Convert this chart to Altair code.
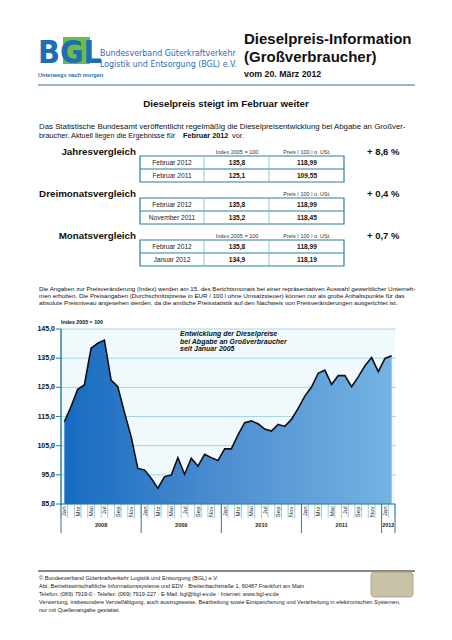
import altair as alt
import pandas as pd

# ---------------- data ----------------
month_names = ["Jan", "Feb", "Mrz", "Apr", "Mai", "Jun", "Jul", "Aug", "Sep", "Okt", "Nov", "Dez"]
years = ["2008", "2009", "2010", "2011", "2012"]
index_values = [
    113.2, 118.4, 124.3, 125.8, 138.4, 140.1, 141.2, 127.5, 125.2, 116.4, 108.1, 97.2,
    96.7, 93.8, 90.4, 94.4, 94.9, 100.9, 95.2, 100.7, 98.0, 102.0, 100.9, 99.9,
    103.9, 103.9, 108.7, 112.9, 113.5, 112.5, 110.7, 110.0, 112.3, 111.6, 114.0, 117.8,
    122.0, 125.1, 129.8, 130.9, 126.0, 129.0, 129.0, 125.2, 128.6, 132.4, 135.2, 130.4,
    134.9, 135.8,
]
y_ticks = [85, 95, 105, 115, 125, 135, 145]

cmp_titles = ["Jahresvergleich", "Dreimonatsvergleich", "Monatsvergleich"]
cmp_periods = [["Februar 2012", "Februar 2011"], ["Februar 2012", "November 2011"], ["Februar 2012", "Januar 2012"]]
cmp_index = [["135,8", "125,1"], ["135,8", "135,2"], ["135,8", "134,9"]]
cmp_price = [["118,99", "109,55"], ["118,99", "118,45"], ["118,99", "118,19"]]
cmp_change = ["+ 8,6 %", "+ 0,4 %", "+ 0,7 %"]
cmp_show_index_header = [True, False, True]

n = len(index_values)
df = pd.DataFrame({"idx": list(range(n)), "value": index_values})
mlab_df = pd.DataFrame({"idx": [i for i in range(n) if i % 2 == 0],
                        "m": [month_names[i % 12] for i in range(n) if i % 2 == 0]})
bounds = pd.DataFrame({"b": [i - 0.5 for i in range(n + 1)]})
year_starts = [i for i in range(n) if i % 12 == 0]
year_bounds = pd.DataFrame({"b": [s - 0.5 for s in year_starts] + [n - 0.5]})
year_df = pd.DataFrame({
    "year": years,
    "c": [(s - 0.5 + min(s + 12, n) - 0.5) / 2 for s in year_starts],
})
ylab_df = pd.DataFrame({"v": y_ticks, "lab": [("%.1f" % v).replace(".", ",") for v in y_ticks]})

# ---------------- styling helpers ----------------
SANS = "Liberation Sans, Arial, sans-serif"
NARROW = "Liberation Sans Narrow, DejaVu Sans Condensed, sans-serif"
TEAL = "#2a7f9f"
BLUE = "#1f6db4"
OX, OY = 61, 329  # page position of plot origin
W, H = 334, 175
one = pd.DataFrame({"a": [0]})
layers = []


def T(s, px, py, size, weight="normal", align="left", color="#111", font=SANS, style="normal"):
    layers.append(
        alt.Chart(one).mark_text(
            text=s, fontSize=size, fontWeight=weight, align=align, baseline="middle",
            color=color, font=font, fontStyle=style,
        ).encode(x=alt.value(px - OX), y=alt.value(py - OY))
    )


def RECT(x1, x2, y1, y2, fill="white", stroke=TEAL, sw=1.0, radius=0):
    kw = dict(fill=fill, strokeWidth=sw, cornerRadius=radius)
    if stroke:
        kw["stroke"] = stroke
    layers.append(
        alt.Chart(one).mark_rect(**kw).encode(
            x=alt.value(x1 - OX), x2=alt.value(x2 - OX), y=alt.value(y1 - OY), y2=alt.value(y2 - OY)
        )
    )


def LINE(x1, x2, y1, y2, color=TEAL, sw=1.0):
    layers.append(
        alt.Chart(one).mark_rule(color=color, strokeWidth=sw).encode(
            x=alt.value(x1 - OX), x2=alt.value(x2 - OX), y=alt.value(y1 - OY), y2=alt.value(y2 - OY)
        )
    )


# ---------------- header ----------------
RECT(63, 90, 37, 64, fill="#6cbd45", stroke=None, sw=0)
T("BGL", 38, 53, 32, weight="bold", color=BLUE, font=NARROW)
T("Unterwegs nach morgen", 38, 75, 5.6, weight="bold", color=BLUE)
T("Bundesverband Güterkraftverkehr", 100, 53, 8.8, color=BLUE, font=NARROW)
T("Logistik und Entsorgung (BGL) e.V.", 100, 64, 8.8, color=BLUE, font=NARROW)
T("Dieselpreis-Information", 244, 39, 15, weight="bold")
T("(Großverbraucher)", 244, 57, 15, weight="bold")
T("vom 20. März 2012", 244, 74, 8.8, weight="bold")
LINE(38, 415, 85, 85, color="#2d6f96", sw=1.2)

T("Dieselpreis steigt im Februar weiter", 226, 104, 9.8, weight="bold", align="center")
T("Das Statistische Bundesamt veröffentlicht regelmäßig die Dieselpreisentwicklung bei Abgabe an Großver-",
  39, 127, 7.85)
T("braucher. Aktuell liegen die Ergebnisse für", 39, 136, 7.3)
T("Februar 2012", 183, 136, 7.3, weight="bold")
T("vor.", 232, 136, 7.3)

# ---------------- comparison tables ----------------
table_tops = [156, 198, 240]
for k in range(3):
    top = table_tops[k]
    mid = top + 13
    bot = top + 26
    T(cmp_titles[k], 136, top - 4, 9.8, weight="bold", align="right")
    if cmp_show_index_header[k]:
        T("Index 2005 = 100", 237, top - 4, 5.5, align="center", color="#333")
    T("Preis / 100 l o. USt.", 307, top - 4, 5.5, align="center", color="#333")
    T(cmp_change[k], 367, top - 4, 9.5, weight="bold", color="#111")
    RECT(140, 344, top, bot, fill="white", stroke=TEAL, sw=1.2)
    LINE(140, 344, mid, mid, color=TEAL, sw=1)
    LINE(204, 204, top, bot, color="#7fb3c8", sw=0.8)
    LINE(269, 269, top, bot, color="#7fb3c8", sw=0.8)
    for r in range(2):
        cy = top + 6.5 + 13 * r
        T(cmp_periods[k][r], 172, cy, 6.6, align="center", color="#222")
        T(cmp_index[k][r], 237, cy, 6.6, weight="bold", align="center")
        T(cmp_price[k][r], 307, cy, 6.6, weight="bold", align="center")

# ---------------- note ----------------
T("Die Angaben zur Preisveränderung (Index) werden am 15. des Berichtsmonats bei einer repräsentativen Auswahl gewerblicher Unterneh-",
  39, 289, 6.2)
T("men erhoben. Die Preisangaben (Durchschnittspreise in EUR / 100 l ohne Umsatzsteuer) können nur als grobe Anhaltspunkte für das",
  39, 296, 6.2)
T("absolute Preisniveau angesehen werden, da die amtliche Preisstatistik auf den Nachweis von Preisveränderungen ausgerichtet ist.",
  39, 302.5, 6.2)

# ---------------- chart annotations ----------------
T("Index 2005 = 100", 61, 321.5, 5.3, weight="bold")
T("Entwicklung der Dieselpreise", 180, 334, 7, weight="bold", style="italic")
T("bei Abgabe an Großverbraucher", 180, 341.5, 7, weight="bold", style="italic")
T("seit Januar 2005", 180, 349, 7, weight="bold", style="italic")

# ---------------- footer ----------------
LINE(38, 415, 571, 571, color="#111", sw=1)
foot = [
    "© Bundesverband Güterkraftverkehr Logistik und Entsorgung (BGL) e.V.",
    "Abt. Betriebswirtschaftliche Informationssysteme und EDV · Breitenbachstraße 1, 60487 Frankfurt am Main",
    "Telefon: (069) 7919-0 · Telefax: (069) 7919-227 · E-Mail: bgl@bgl-ev.de · Internet: www.bgl-ev.de",
    "Verwertung, insbesondere Vervielfältigung, auch auszugsweise, Bearbeitung sowie Einspeicherung und Verarbeitung in elektronischen Systemen,",
    "nur mit Quellenangabe gestattet.",
]
for i, line in enumerate(foot):
    T(line, 39, 578 + 8.1 * i, 5.6, color="#222")
RECT(371, 413, 572, 597, fill="#c8c2a6", stroke="#a39c7e", sw=0.8, radius=3)

# ---------------- main chart ----------------
xscale = alt.Scale(domain=[-0.5, n - 0.5], nice=False, zero=False)
yscale = alt.Scale(domain=[85, 145], nice=False, zero=False)

gradient = alt.LinearGradient(
    gradient="linear",
    stops=[alt.GradientStop(color="#166bc0", offset=0),
           alt.GradientStop(color="#4f8fd1", offset=0.5),
           alt.GradientStop(color="#74b3e2", offset=1)],
    x1=0, x2=1, y1=0, y2=0,
)

grid = alt.Chart(ylab_df).mark_rule(color="#a9d4e4", strokeWidth=1).encode(
    y=alt.Y("v:Q", scale=yscale, axis=None), x=alt.value(0), x2=alt.value(W + 1)
)
yticks = alt.Chart(ylab_df).mark_rule(color=TEAL, strokeWidth=1).encode(
    y=alt.Y("v:Q", scale=yscale, axis=None), x=alt.value(-5), x2=alt.value(0)
)
ylabels = alt.Chart(ylab_df).mark_text(
    align="right", baseline="middle", fontSize=7, fontWeight="bold", font=SANS, color="#111"
).encode(y=alt.Y("v:Q", scale=yscale, axis=None), x=alt.value(-6), text="lab:N")

area = alt.Chart(df).mark_area(color=gradient).encode(
    x=alt.X("idx:Q", scale=xscale, axis=None),
    y=alt.Y("value:Q", scale=yscale, axis=None),
    y2=alt.datum(85),
)
line = alt.Chart(df).mark_line(color="#111", strokeWidth=1.6).encode(
    x=alt.X("idx:Q", scale=xscale, axis=None),
    y=alt.Y("value:Q", scale=yscale, axis=None),
)
month_rules = alt.Chart(bounds).mark_rule(color="#86bcd8", strokeWidth=0.8).encode(
    x=alt.X("b:Q", scale=xscale, axis=None), y=alt.value(H), y2=alt.value(H + 14)
)
month_text = alt.Chart(mlab_df).mark_text(
    angle=270, align="right", baseline="middle", fontSize=6, font=SANS, color="#222"
).encode(x=alt.X("idx:Q", scale=xscale, axis=None), y=alt.value(H + 2.5), text="m:N")
year_rules = alt.Chart(year_bounds).mark_rule(color=TEAL, strokeWidth=1).encode(
    x=alt.X("b:Q", scale=xscale, axis=None), y=alt.value(H), y2=alt.value(H + 29)
)
year_text = alt.Chart(year_df).mark_text(fontSize=5.5, fontWeight="bold", font=SANS, color="#222").encode(
    x=alt.X("c:Q", scale=xscale, axis=None), y=alt.value(196), text="year:N"
)

LINE(61, 61, 329, 505, color=TEAL, sw=1.5)
LINE(61, 395, 504, 504, color=TEAL, sw=1)

chart = alt.layer(grid, area, line, yticks, ylabels, month_rules, month_text, year_rules, year_text,
                  *layers).properties(
    width=W, height=H,
    autosize=alt.AutoSizeParams(type="none"),
    padding={"left": 53, "top": 321, "right": 49, "bottom": 124},
    background="white",
).configure_view(fill="#f0fafd", strokeWidth=0)

chart.save("out.html", embed_options={"renderer": "svg", "actions": False})
